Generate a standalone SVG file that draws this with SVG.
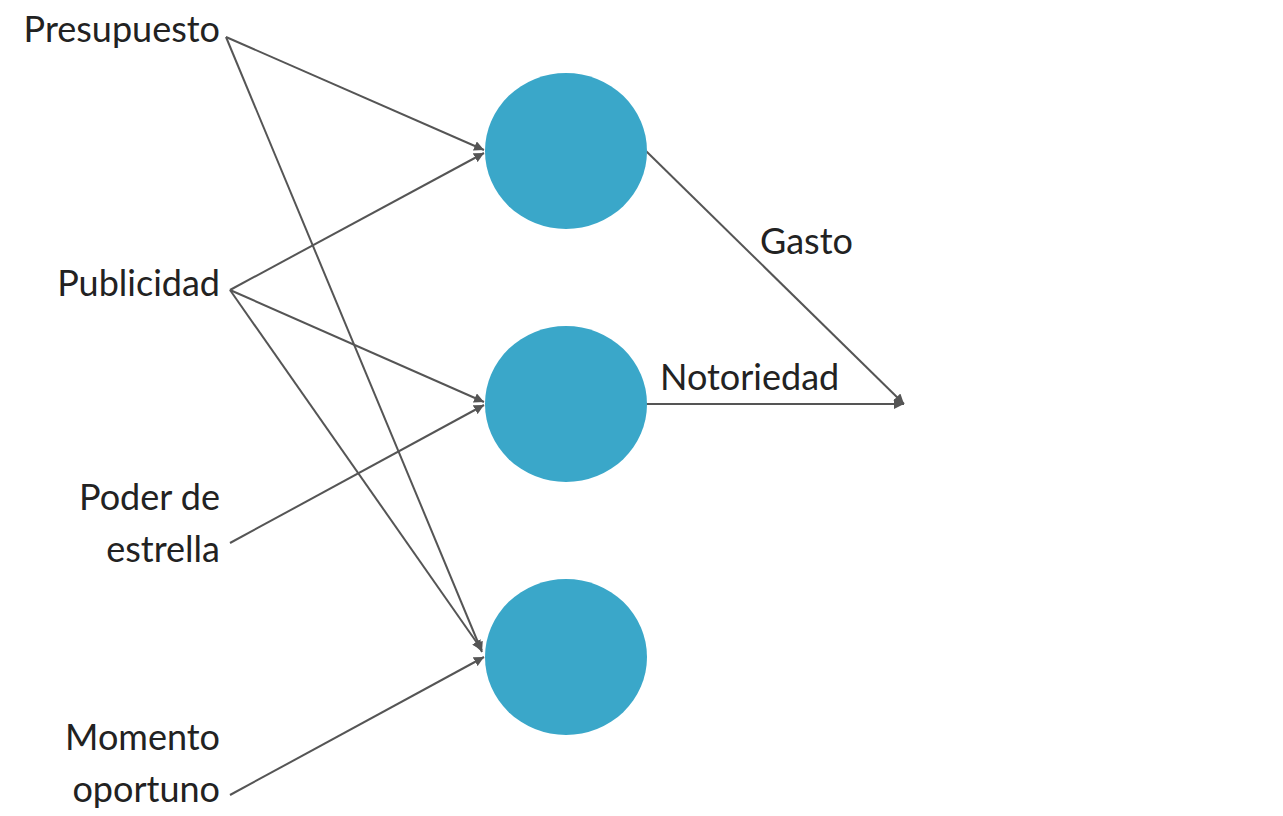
<svg xmlns="http://www.w3.org/2000/svg" width="1283" height="816" viewBox="0 0 1283 816">
<style>
text{font-family:Lato,"Liberation Sans",sans-serif;font-size:36px;fill:#222}
.r{text-anchor:end}
.n{fill:#3aa7c9}
.c line{stroke:#555;stroke-width:2;marker-end:url(#a)}
</style>
<defs><marker id="a" viewBox="0 0 10 10" refX="10" refY="5" markerWidth="10" markerHeight="10" markerUnits="userSpaceOnUse" orient="auto"><path d="M0,0L10,5L0,10z" fill="#555"/></marker></defs>
<rect width="1283" height="816" fill="#fff"/>
<g class="c">
<line x1="226" y1="37" x2="484" y2="150"/>
<line x1="226" y1="37" x2="482" y2="652"/>
<line x1="230" y1="290" x2="484" y2="153"/>
<line x1="230" y1="290" x2="484" y2="402"/>
<line x1="230" y1="290" x2="482" y2="650"/>
<line x1="230" y1="543" x2="484" y2="405"/>
<line x1="230" y1="795" x2="484" y2="657"/>
<line x1="646" y1="151" x2="904" y2="404"/>
<line x1="646" y1="404" x2="904" y2="404"/>
</g>
<g id="n1"><ellipse class="n" cx="566" cy="151" rx="81" ry="78"/></g>
<g id="n2"><ellipse class="n" cx="566" cy="404" rx="81" ry="78"/></g>
<g id="n3"><ellipse class="n" cx="566" cy="657" rx="81" ry="78"/></g>
<g id="l1"><text class="r" x="220" y="42">Presupuesto</text></g>
<g id="l2"><text class="r" x="220" y="296">Publicidad</text></g>
<g id="l3"><text class="r" x="220" y="510">Poder de</text><text class="r" x="220" y="562">estrella</text></g>
<g id="l4"><text class="r" x="220" y="750">Momento</text><text class="r" x="220" y="802">oportuno</text></g>
<g id="l5"><text x="760" y="254">Gasto</text></g>
<g id="l6"><text x="660" y="390">Notoriedad</text></g>
</svg>
